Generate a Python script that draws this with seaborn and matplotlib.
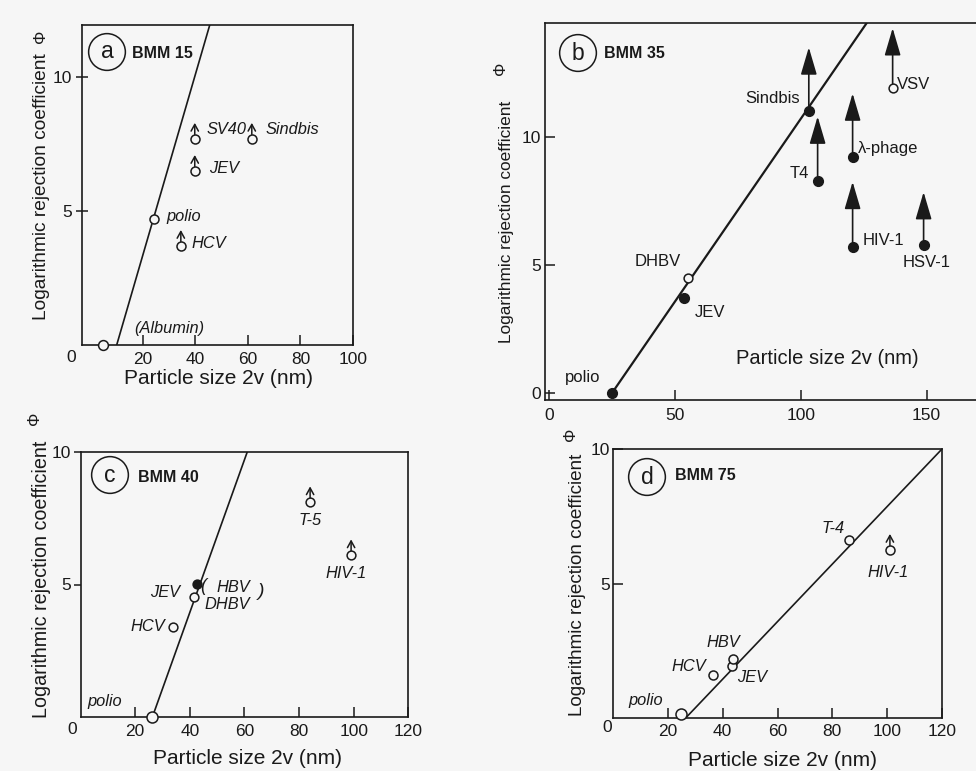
import numpy as np
import pandas as pd
import matplotlib
matplotlib.use("Agg")
import matplotlib.pyplot as plt
import seaborn as sns
from matplotlib.transforms import offset_copy

sns.set_theme(style="ticks")
plt.rcParams["font.family"] = ["Liberation Sans", "DejaVu Sans"]

W, H = 976, 771
BG = "#f6f6f6"
INK = "#1a1a1a"

# ---------------- data ----------------
# (a) BMM 15
a_line_x = [10.1, 45.5]
a_line_y = [0.0, 11.95]
a_names = ["polio", "HCV", "JEV", "SV40", "Sindbis"]
a_size = [24.2, 34.5, 39.8, 39.8, 61.5]
a_phi = [4.7, 3.7, 6.5, 7.7, 7.7]
a_lower_bound = [False, True, True, True, True]
a_albumin_size = [4.8]
a_albumin_phi = [0.0]

# (b) BMM 35
b_line_x = [25.0, 126.2]
b_line_y = [0.0, 14.45]
b_names = ["polio", "JEV", "DHBV", "Sindbis", "T4", "λ-phage", "VSV", "HIV-1", "HSV-1"]
b_size = [25.0, 53.6, 55.2, 103.2, 106.7, 120.6, 136.5, 120.6, 148.8]
b_phi = [0.0, 3.7, 4.5, 11.0, 8.3, 9.2, 11.9, 5.7, 5.8]
b_filled = [True, True, False, True, True, True, False, True, True]
b_arrow_tip = [None, None, None, 13.5, 10.8, 11.7, 14.25, 8.25, 7.85]

# (c) BMM 40
c_line_x = [26.3, 61.0]
c_line_y = [0.0, 10.0]
c_names = ["polio", "HCV", "DHBV", "JEV", "T-5", "HIV-1"]
c_size = [26.2, 33.9, 41.6, 42.7, 84.0, 99.0]
c_phi = [0.0, 3.4, 4.53, 5.02, 8.1, 6.1]
c_filled = [False, False, False, True, False, False]
c_lower_bound = [False, False, False, False, True, True]

# (d) BMM 75
d_line_x = [26.5, 120.0]
d_line_y = [0.0, 10.0]
d_names = ["polio", "HCV", "JEV", "HBV", "T-4", "HIV-1"]
d_size = [24.7, 36.4, 43.3, 43.6, 86.2, 101.0]
d_phi = [0.15, 1.6, 1.93, 2.2, 6.6, 6.25]
d_lower_bound = [False, False, False, False, False, True]

XLABEL = "Particle size 2v (nm)"
YLABEL = "Logarithmic rejection coefficient"

TICK_FS = 12.5
LAB_FS = 11.8

fig = plt.figure(figsize=(W / 100, H / 100), dpi=100, facecolor=BG)


def fx(px):
    return px / W


def fy(py):
    return 1 - py / H


def make_axes(left, top, right, bottom):
    ax = fig.add_axes([fx(left), fy(bottom), (right - left) / W, (bottom - top) / H])
    ax.set_facecolor("none")
    for s in ax.spines.values():
        s.set_color(INK)
        s.set_linewidth(1.2)
    return ax


def fit_line(ax, xs, ys, lw):
    sns.lineplot(x=xs, y=ys, ax=ax, color=INK, lw=lw, zorder=2, sort=False)


def markers(ax, xs, ys, filled, s, lw=1.1):
    df = pd.DataFrame({"x": xs, "y": ys, "f": filled})
    op = df[~df["f"]]
    cl = df[df["f"]]
    if len(op):
        sns.scatterplot(data=op, x="x", y="y", ax=ax, s=s, color=BG, edgecolor=INK,
                        linewidth=lw, zorder=5, clip_on=False, legend=False)
    if len(cl):
        sns.scatterplot(data=cl, x="x", y="y", ax=ax, s=s, color=INK, edgecolor=INK,
                        linewidth=lw, zorder=5, clip_on=False, legend=False)


def small_up_arrow(ax, x, y):
    tip = offset_copy(ax.transData, fig=fig, x=0, y=11.5, units="points")
    base = offset_copy(ax.transData, fig=fig, x=0, y=3.2, units="points")
    ax.annotate("", xy=(x, y), xycoords=tip, xytext=(x, y), textcoords=base,
                arrowprops=dict(arrowstyle="->,head_length=0.4,head_width=0.22",
                                lw=1.1, color=INK, shrinkA=0, shrinkB=0),
                annotation_clip=False)


def label(ax, text, x, y, dx, dy, ha, size=LAB_FS, italic=True):
    ax.annotate(text, xy=(x, y), xytext=(dx, dy), textcoords="offset points",
                ha=ha, va="center", fontsize=size, color=INK,
                style="italic" if italic else "normal", annotation_clip=False)


def panel_tag(letter, cx, cy, title, tx, ty):
    fig.text(fx(cx), fy(cy), letter, ha="center", va="center", fontsize=16.5, color=INK,
             bbox=dict(boxstyle="circle,pad=0.3", fc="none", ec=INK, lw=1.1))
    fig.text(fx(tx), fy(ty), title, ha="left", va="center", fontsize=11.5,
             fontweight="bold", color=INK)


def y_title(x, yc, phi_x, phi_y, size=13.8):
    fig.text(fx(x), fy(yc), YLABEL, rotation=90, ha="center", va="center",
             fontsize=size, color=INK)
    fig.text(fx(phi_x), fy(phi_y), "Φ", rotation=90, ha="center", va="center",
             fontsize=12, color=INK)


def x_title(xc, y, size=15):
    fig.text(fx(xc), fy(y), XLABEL, ha="center", va="center", fontsize=size, color=INK)


def clean(ax):
    ax.set_xlabel("")
    ax.set_ylabel("")


# ---------------- (a) BMM 15 ----------------
ax = make_axes(82, 25, 353, 345)
fit_line(ax, a_line_x, a_line_y, 1.2)
markers(ax, a_size, a_phi, [False] * len(a_size), 42)
markers(ax, a_albumin_size, a_albumin_phi, [False], 50)
for n, x, y, lb in zip(a_names, a_size, a_phi, a_lower_bound):
    if lb:
        small_up_arrow(ax, x, y)
a_off = {"polio": (9, 2), "HCV": (8, 1.5), "JEV": (10, 1.5), "SV40": (8.6, 7), "Sindbis": (10, 7)}
for n, x, y in zip(a_names, a_size, a_phi):
    dx, dy = a_off[n]
    label(ax, n, x, y, dx, dy, "left")
label(ax, "(Albumin)", a_albumin_size[0], a_albumin_phi[0], 48, 12, "center")
ax.set_xlim(-3.1, 100)
ax.set_ylim(0, 11.95)
ax.set_xticks([20, 40, 60, 80, 100])
ax.set_yticks([5, 10])
ax.tick_params(axis="x", direction="in", length=7, width=1.1, labelsize=TICK_FS, pad=5, colors=INK)
ax.tick_params(axis="y", direction="inout", length=9, width=1.1, labelsize=TICK_FS, pad=3, colors=INK)
clean(ax)
fig.text(fx(71), fy(358), "0", ha="center", va="center", fontsize=TICK_FS, color=INK)
panel_tag("a", 107, 52, "BMM 15", 132, 53)
y_title(42, 187, 40, 36)
x_title(219, 378)

# ---------------- (b) BMM 35 ----------------
ax = make_axes(545, 23, 982, 400)
fit_line(ax, b_line_x, b_line_y, 1.6)
for x, y, tip in zip(b_size, b_phi, b_arrow_tip):
    if tip is not None:
        ax.annotate("", xy=(x, tip), xytext=(x, y),
                    arrowprops=dict(arrowstyle="-|>,head_length=0.85,head_width=0.25",
                                    mutation_scale=20, lw=1.2, color=INK,
                                    shrinkA=0, shrinkB=0), zorder=3)
fm = np.array(b_filled)
markers(ax, np.array(b_size)[fm], np.array(b_phi)[fm], [True] * fm.sum(), 48)
markers(ax, np.array(b_size)[~fm], np.array(b_phi)[~fm], [False] * (~fm).sum(), 40)
b_off = {"polio": (-21, 11, "center"), "JEV": (8, -10, "left"), "DHBV": (-21.6, 12, "center"),
         "Sindbis": (-6.5, 9, "right"), "T4": (-6.5, 5, "right"), "λ-phage": (3.6, 6.5, "left"),
         "VSV": (3, 3, "left"), "HIV-1": (7, 5, "left"), "HSV-1": (2, -13, "center")}
for n, x, y in zip(b_names, b_size, b_phi):
    dx, dy, ha = b_off[n]
    label(ax, n, x, y, dx, dy, ha, size=12, italic=False)
ax.set_xlim(-1.6, 172)
ax.set_ylim(-0.27, 14.45)
ax.set_xticks([0, 50, 100, 150])
ax.set_yticks([0, 5, 10])
ax.tick_params(direction="in", length=7, width=1.1, labelsize=TICK_FS, colors=INK)
ax.tick_params(axis="x", pad=6)
ax.tick_params(axis="y", pad=3)
clean(ax)
panel_tag("b", 578, 53, "BMM 35", 604, 53)
y_title(507, 222, 501, 68, size=12.4)
x_title(827, 358, size=14.5)

# ---------------- (c) BMM 40 ----------------
ax = make_axes(80.5, 452, 408.5, 717)
fit_line(ax, c_line_x, c_line_y, 1.2)
sizes_c = [63 if n == "polio" else 40 for n in c_names]
for x, y, f, s in zip(c_size, c_phi, c_filled, sizes_c):
    markers(ax, [x], [y], [f], s)
for x, y, lb in zip(c_size, c_phi, c_lower_bound):
    if lb:
        small_up_arrow(ax, x, y)
c_off = {"polio": (-34, 11, "center"), "HCV": (-6, 0, "right"), "JEV": (-12, -6.5, "right"),
         "T-5": (0, -13, "center"), "HIV-1": (-3.6, -13, "center")}
for n, x, y in zip(c_names, c_size, c_phi):
    if n in c_off:
        dx, dy, ha = c_off[n]
        label(ax, n, x, y, dx, dy, ha)
    if n == "DHBV":
        label(ax, "HBV", x, y, 28, 6.5, "center")
        label(ax, "DHBV", x, y, 23.5, -5.2, "center")
        label(ax, "(", x, y, 6.5, 7.5, "center", size=13)
        label(ax, ")", x, y, 48, 4, "center", size=14)
ax.set_xlim(0, 120)
ax.set_ylim(0, 10)
ax.set_xticks([20, 40, 60, 80, 100, 120])
ax.set_yticks([5, 10])
ax.tick_params(axis="x", direction="in", length=7, width=1.1, labelsize=TICK_FS, pad=5, colors=INK)
ax.tick_params(axis="y", direction="out", length=5, width=1.1, labelsize=TICK_FS, pad=2, colors=INK)
clean(ax)
fig.text(fx(72), fy(729), "0", ha="center", va="center", fontsize=TICK_FS, color=INK)
panel_tag("c", 110, 475, "BMM 40", 138, 477)
y_title(42, 579, 35, 418, size=14.2)
x_title(247, 758)

# ---------------- (d) BMM 75 ----------------
ax = make_axes(613, 449, 942, 718)
fit_line(ax, d_line_x, d_line_y, 1.2)
sizes_d = [63 if n == "polio" else 42 for n in d_names]
for x, y, s in zip(d_size, d_phi, sizes_d):
    markers(ax, [x], [y], [False], s)
for x, y, lb in zip(d_size, d_phi, d_lower_bound):
    if lb:
        small_up_arrow(ax, x, y)
d_off = {"polio": (-25, 9.4, "center"), "HCV": (-5, 6, "right"), "JEV": (3.6, -8, "left"),
         "HBV": (-7, 11.5, "center"), "T-4": (-12, 8.6, "center"), "HIV-1": (-1.5, -16, "center")}
for n, x, y in zip(d_names, d_size, d_phi):
    dx, dy, ha = d_off[n]
    label(ax, n, x, y, dx, dy, ha)
ax.set_xlim(0, 120)
ax.set_ylim(0, 10)
ax.set_xticks([20, 40, 60, 80, 100, 120])
ax.set_yticks([5, 10])
ax.tick_params(direction="in", length=7, width=1.1, labelsize=TICK_FS, colors=INK)
ax.tick_params(axis="x", pad=4)
ax.tick_params(axis="y", pad=2)
clean(ax)
fig.text(fx(607), fy(728), "0", ha="center", va="center", fontsize=TICK_FS, color=INK)
panel_tag("d", 647, 477, "BMM 75", 675, 475)
y_title(577, 585, 571, 434, size=13.6)
x_title(782, 760)

fig.savefig("out.png", dpi=100, facecolor=BG)
